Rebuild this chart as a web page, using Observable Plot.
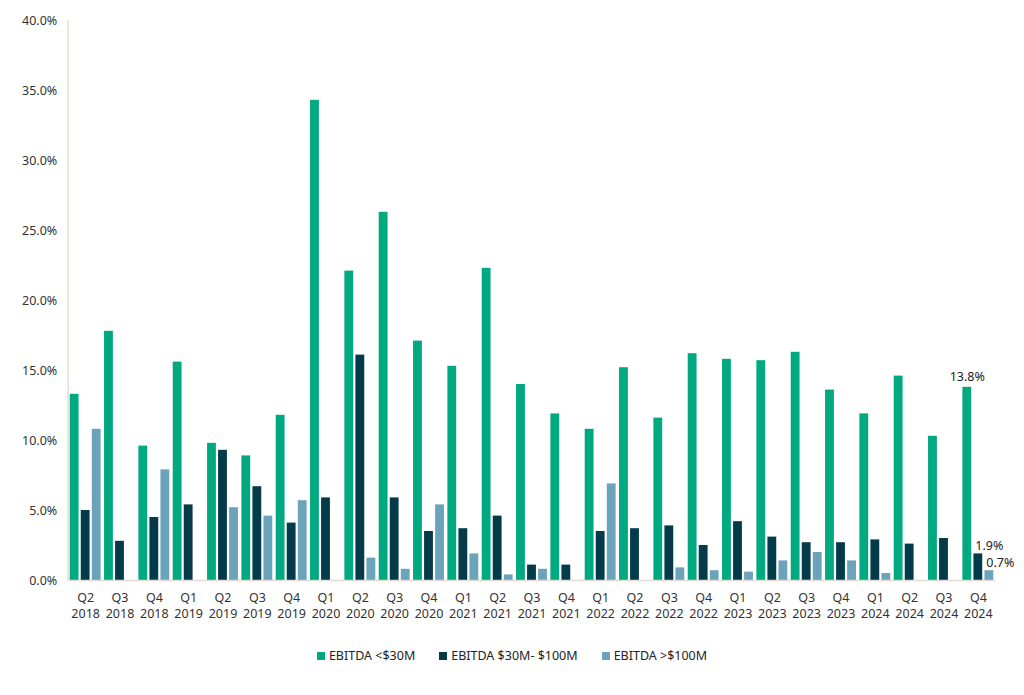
<!DOCTYPE html>
<html>
<head>
<meta charset="utf-8">
<script src="https://cdn.jsdelivr.net/npm/d3@7"></script>
<script src="https://cdn.jsdelivr.net/npm/@observablehq/plot@0.6"></script>
<style>
  body { margin: 0; background: #fff; font-family: 'Noto Sans', sans-serif; }
  #chart { width: 1024px; }
  .legend { display: flex; justify-content: center; align-items: center; gap: 24px; padding-top: 17px; font-size: 12.5px; color: #222; }
  .legend span.item { display: flex; align-items: center; gap: 4px; }
  .legend span.sw { width: 8px; height: 8px; display: inline-block; }
</style>
</head>
<body>
<div id="chart"></div>
<script>
const quarters = ["Q2 2018","Q3 2018","Q4 2018","Q1 2019","Q2 2019","Q3 2019","Q4 2019","Q1 2020","Q2 2020","Q3 2020","Q4 2020","Q1 2021","Q2 2021","Q3 2021","Q4 2021","Q1 2022","Q2 2022","Q3 2022","Q4 2022","Q1 2023","Q2 2023","Q3 2023","Q4 2023","Q1 2024","Q2 2024","Q3 2024","Q4 2024"];
const seriesNames = ["EBITDA <$30M", "EBITDA $30M- $100M", "EBITDA >$100M"];
const ebitdaSmall = [13.3,17.8,9.6,15.6,9.8,8.9,11.8,34.3,22.1,26.3,17.1,15.3,22.3,14.0,11.9,10.8,15.2,11.6,16.2,15.8,15.7,16.3,13.6,11.9,14.6,10.3,13.8];
const ebitdaMid = [5.0,2.8,4.5,5.4,9.3,6.7,4.1,5.9,16.1,5.9,3.5,3.7,4.6,1.1,1.1,3.5,3.7,3.9,2.5,4.2,3.1,2.7,2.7,2.9,2.6,3.0,1.9];
const ebitdaLarge = [10.8,null,7.9,null,5.2,4.6,5.7,null,1.6,0.8,5.4,1.9,0.4,0.8,null,6.9,null,0.9,0.7,0.6,1.4,2.0,1.4,0.5,null,null,0.7];
const yTicks = [0,5,10,15,20,25,30,35,40];
const colors = ["#00A97F", "#033B4A", "#6BA3BA"];
const axisColor = "#E2DCD5";

const seriesValues = [ebitdaSmall, ebitdaMid, ebitdaLarge];
const rows = quarters.flatMap((q, i) => seriesNames.map((s, j) => ({quarter: q, series: s, value: seriesValues[j][i]})))
  .filter(d => d.value != null);
const lastQuarter = quarters[quarters.length - 1];
const labelRows = rows.filter(d => d.quarter === lastQuarter);
const pct = d => d.value.toFixed(1) + "%";

const chart = Plot.plot({
  width: 1024,
  height: 630,
  marginLeft: 68,
  marginRight: 29,
  marginTop: 20,
  marginBottom: 50,
  style: {fontFamily: "'Noto Sans', sans-serif", fontSize: "12.5px", color: "#333", background: "#fff"},
  fx: {domain: quarters, paddingInner: 0.1, paddingOuter: 0.05, round: false, label: null},
  x: {domain: seriesNames, paddingInner: 0.2, paddingOuter: 0, round: false, axis: null},
  y: {domain: [0, 40], label: null},
  color: {domain: seriesNames, range: colors},
  marks: [
    Plot.axisY({ticks: yTicks, tickSize: 0, tickPadding: 13, tickFormat: d => d.toFixed(1) + "%", label: null, fill: "#333"}),
    Plot.axisFx({anchor: "bottom", tickSize: 0, tickPadding: 10, tickFormat: q => q.replace(" ", "\n"), lineHeight: 1.3, label: null, fill: "#333"}),
    Plot.barY(rows, {fx: "quarter", x: "series", y: "value", fill: "series"}),
    Plot.ruleY([0], {stroke: axisColor, strokeWidth: 1.5, insetLeft: -2, insetRight: -2}),
    Plot.ruleX([seriesNames[0]], {fx: () => quarters[0], x: d => d, y1: 0, y2: 40, dx: -6.5, stroke: axisColor, strokeWidth: 1.5}),
    Plot.text(labelRows.filter(d => d.series === seriesNames[0]), {fx: "quarter", x: "series", y: "value", text: pct, dy: -10, fill: "#222", fontSize: 12.5}),
    Plot.text(labelRows.filter(d => d.series !== seriesNames[0]), {fx: "quarter", x: "series", y: "value", text: pct, textAnchor: "start", dx: -3, dy: -8, fill: "#222", fontSize: 12.5})
  ]
});
document.getElementById("chart").appendChild(chart);

const legend = document.createElement("div");
legend.className = "legend";
seriesNames.forEach((s, i) => {
  const item = document.createElement("span");
  item.className = "item";
  const sw = document.createElement("span");
  sw.className = "sw";
  sw.style.background = colors[i];
  const t = document.createElement("span");
  t.textContent = s;
  item.appendChild(sw);
  item.appendChild(t);
  legend.appendChild(item);
});
document.getElementById("chart").appendChild(legend);
</script>
</body>
</html>
